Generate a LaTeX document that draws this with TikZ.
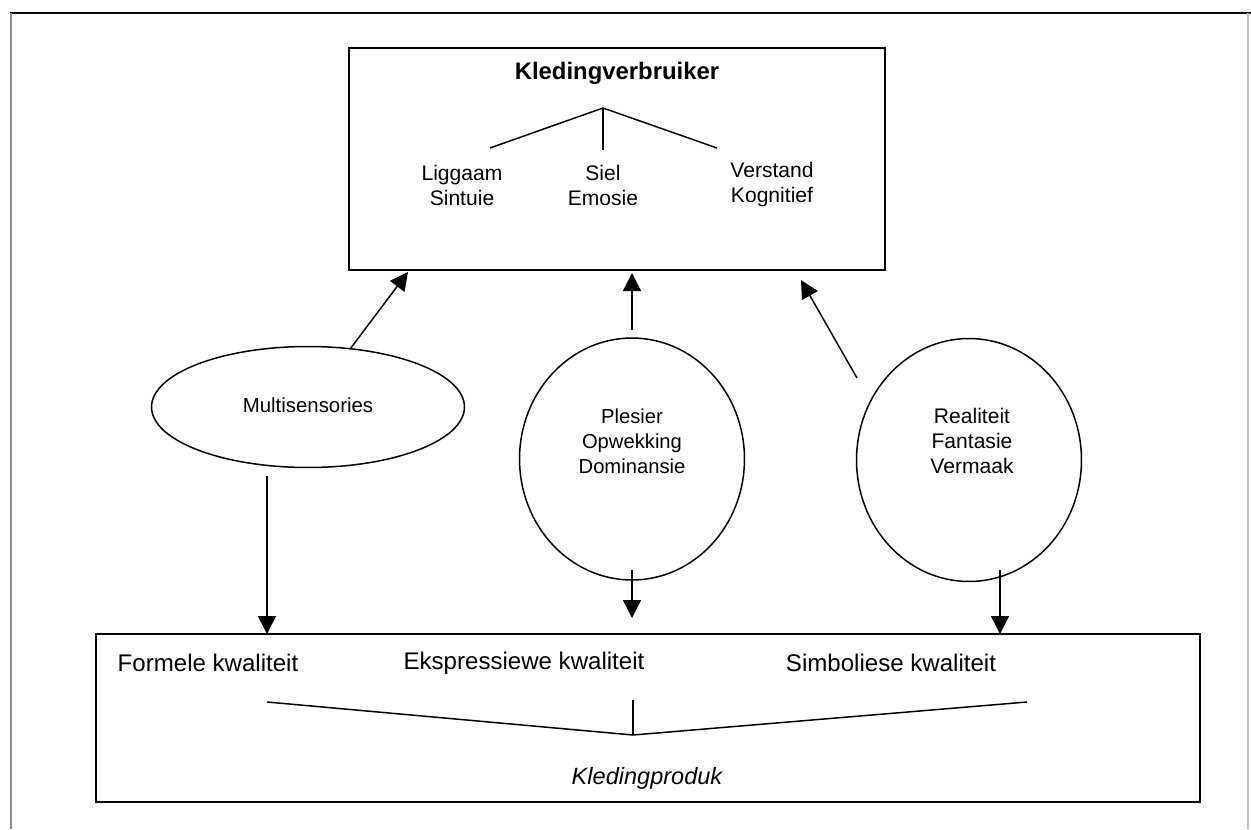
\documentclass[tikz,border=0pt]{standalone}
\usepackage{fontspec}
\setmainfont{Liberation Sans}
\usetikzlibrary{calc, positioning, arrows.meta, shapes.geometric}
\tikzset{
	line width = .85pt,
	>={Triangle[length=.36cm, width=.36cm]},
	font = \fontsize{12}{14.2}\selectfont,
	box/.style={
		draw,
		rectangle,
		line width=1.1pt,
		inner sep=0pt
	},
	blob/.style={
		draw,
		ellipse,
		line width=.85pt,
		inner sep=0pt
	},
	label text/.style={
		align=center,
		inner sep=0pt
	},
	quality/.style={
		label text,
		font=\fontsize{13.7}{16}\selectfont
	},
	arrow/.style={
		->,
		line width=.85pt
	},
	leg/.style={
		line width=.85pt
	}
}

\begin{document}
\begin{tikzpicture}[x=0.02cm, y=0.02cm]
\useasboundingbox (0,0) rectangle (1251,-829);

% ---
% Frame
% ---
\draw[line width=1.2pt] (10,-13) -- (1251,-13);
\draw[line width=.8pt, black!45] (11,-13) -- (11,-829);
\draw[line width=.8pt, black!25] (1248,-13) -- (1248,-829);

% ---
% Consumer
% ---
\node[box, minimum width=10.72cm, minimum height=4.44cm] (verbruiker) at (617,-159) {};
\node[label text, font=\fontsize{13.6}{16}\selectfont\bfseries] (titel) at (617,-73) {Kledingverbruiker};
\coordinate (top) at (603,-108);
\node[label text] (liggaam) at (462,-185) {Liggaam\\Sintuie};
\node[label text] (siel) at (603,-185) {Siel\\Emosie};
\node[label text] (verstand) at (772,-185) {Verstand\\Kognitief};
\coordinate (leg-liggaam) at (490,-148);
\coordinate (leg-siel) at (603,-150);
\coordinate (leg-verstand) at (717,-148);
\foreach \i in {liggaam,siel,verstand} {
	\draw[leg] (top) -- (leg-\i);
};

% ---
% Experiences
% ---
\node[blob, minimum width=6.26cm, minimum height=2.42cm] (multi) at (308,-407) {};
\node[label text, font=\fontsize{11.6}{13.5}\selectfont] (multi-label) at (308,-405) {Multisensories};
\node[blob, minimum width=4.5cm, minimum height=4.84cm] (plesier) at (632,-459) {};
\node[label text, font=\fontsize{11.5}{14.2}\selectfont] (plesier-label) at (632,-441) {Plesier\\Opwekking\\Dominansie};
\node[blob, minimum width=4.5cm, minimum height=4.86cm] (realiteit) at (969,-460) {};
\node[label text] (realiteit-label) at (972,-441) {Realiteit\\Fantasie\\Vermaak};

% ---
% Product
% ---
\node[box, minimum width=22.08cm, minimum height=3.36cm] (produk) at (648,-718) {};
\node[quality] (formeel) at (208,-663) {Formele kwaliteit};
\node[quality] (ekspressief) at (524,-663) {Ekspressiewe kwaliteit};
\node[quality] (simbolies) at (891,-663) {Simboliese kwaliteit};
\node[quality, font=\fontsize{13.4}{16}\selectfont\itshape] (kledingproduk) at (647,-778) {Kledingproduk};
\coordinate (bottom) at (633,-735);
\draw[leg] (267,-702) -- (bottom) -- (1027,-702);
\draw[leg] (633,-700) -- (bottom);

% ---
% Arrows
% ---
\coordinate (up-multi) at (408,-272);
\coordinate (up-plesier) at (632,-273);
\coordinate (up-realiteit) at (801,-280);
\coordinate (from-multi) at (267,-476);
\coordinate (from-plesier-up) at (632,-330);
\coordinate (from-plesier-down) at (632,-570);
\coordinate (from-realiteit-up) at (857,-378);
\coordinate (from-realiteit-down) at (1000,-570);
\coordinate (down-multi) at (267,-634);
\coordinate (down-plesier) at (632,-618);
\coordinate (down-realiteit) at (1000,-634);

\draw[arrow] (multi.54) -- (up-multi);
\draw[arrow] (from-plesier-up) -- (up-plesier);
\draw[arrow] (from-realiteit-up) -- (up-realiteit);
\draw[arrow] (from-multi) -- (down-multi);
\draw[arrow] (from-plesier-down) -- (down-plesier);
\draw[arrow] (from-realiteit-down) -- (down-realiteit);
\end{tikzpicture}
\end{document}
